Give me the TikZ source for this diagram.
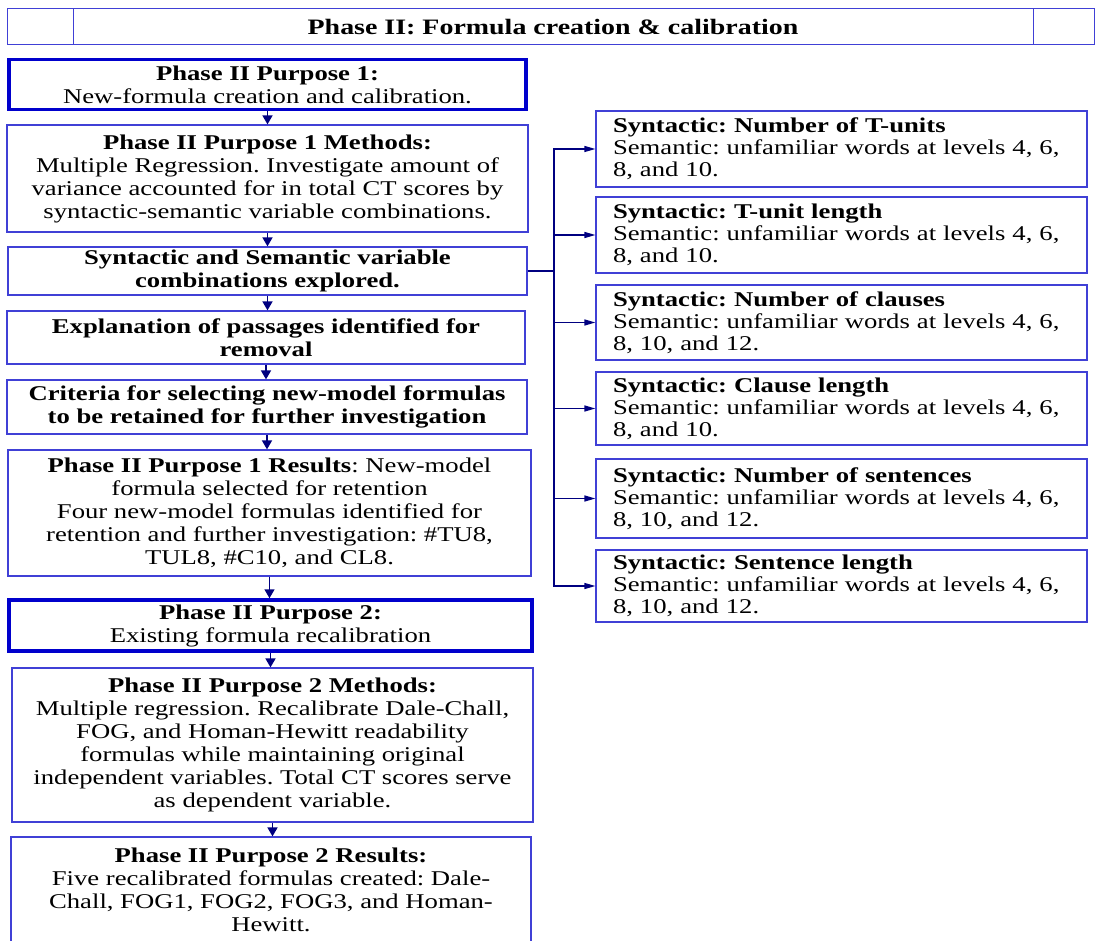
\documentclass[tikz,border=0pt]{standalone}
\usepackage{fontspec}
\setmainfont{Liberation Serif}[FakeStretch=1.27]
\usetikzlibrary{arrows.meta}
\definecolor{thinblue}{RGB}{64,64,214}
\definecolor{thickblue}{RGB}{0,0,204}
\definecolor{navy}{RGB}{0,0,128}
\tikzset{
  box/.style={draw=thinblue, line width=1.2pt, rectangle, inner sep=0pt, align=center,
    font=\fontsize{21}{23}\selectfont},
  thickbox/.style={box, draw=thickblue, line width=3.5pt},
  rbox/.style={draw=thinblue, line width=1.2pt, rectangle, inner xsep=17pt, inner ysep=0pt,
    text width=457pt, align=left, font=\fontsize{21}{22}\selectfont},
  cell/.style={draw=thinblue, line width=1pt, rectangle, inner sep=0pt,
    font=\fontsize{22}{23}\selectfont\bfseries},
  varrow/.style={draw=navy, line width=1.6pt, -{Triangle[length=9pt,width=10pt]}},
  harrow/.style={draw=navy, line width=1.3pt, -{Triangle[length=11pt,width=6pt]}},
  bus/.style={draw=navy, line width=1.6pt}
}
\begin{document}
\frenchspacing
\begin{tikzpicture}[x=1pt,y=-1pt]
\useasboundingbox (0,0) rectangle (1095,941);
% header
\node[cell, minimum width=66pt, minimum height=36pt] (hl) at (40,27) {};
\node[cell, minimum width=960pt, minimum height=36pt] (ht) at (553,27) {Phase II: Formula creation \& calibration};
\node[cell, minimum width=61pt, minimum height=36pt] (hr) at (1063.5,27) {};
% left column
\node[thickbox, minimum width=517pt, minimum height=50pt] (p1) at (267.5,84.5)
  {\textbf{Phase II Purpose 1:}\\New-formula creation and calibration.};
\node[box, minimum width=521pt, minimum height=107pt] (m1) at (267.5,178.5)
  {\textbf{Phase II Purpose 1 Methods:}\\Multiple Regression. Investigate amount of\\variance accounted for in total CT scores by\\syntactic-semantic variable combinations.};
\node[box, minimum width=519pt, minimum height=48pt] (sv) at (267.5,271)
  {\textbf{Syntactic and Semantic variable}\\\textbf{combinations explored.}};
\node[box, minimum width=518pt, minimum height=53pt] (ex) at (266,337.5)
  {\textbf{Explanation of passages identified for}\\\textbf{removal}};
\node[box, minimum width=520pt, minimum height=54pt] (cr) at (267,407)
  {\textbf{Criteria for selecting new-model formulas}\\\textbf{to be retained for further investigation}};
\node[box, minimum width=523pt, minimum height=126pt] (r1) at (269.5,513)
  {\textbf{Phase II Purpose 1 Results}: New-model\\formula selected for retention\\Four new-model formulas identified for\\retention and further investigation: \#TU8,\\TUL8, \#C10, and CL8.};
\node[thickbox, minimum width=523pt, minimum height=51pt] (p2) at (270.5,625.5)
  {\textbf{Phase II Purpose 2:}\\Existing formula recalibration};
\node[box, minimum width=521pt, minimum height=154pt] (m2) at (272.5,745)
  {\textbf{Phase II Purpose 2 Methods:}\\Multiple regression. Recalibrate Dale-Chall,\\FOG, and Homan-Hewitt readability\\formulas while maintaining original\\independent variables. Total CT scores serve\\as dependent variable.};
\node[box, minimum width=520pt, minimum height=106pt] (r2) at (271,890)
  {\textbf{Phase II Purpose 2 Results:}\\Five recalibrated formulas created: Dale-\\Chall, FOG1, FOG2, FOG3, and Homan-\\Hewitt.};
% right column
\node[rbox, minimum height=76pt] (s1) at (841.5,149)
  {\textbf{Syntactic: Number of T-units}\\Semantic: unfamiliar words at levels 4, 6,\\8, and 10.};
\node[rbox, minimum height=76pt] (s2) at (841.5,235)
  {\textbf{Syntactic: T-unit length}\\Semantic: unfamiliar words at levels 4, 6,\\8, and 10.};
\node[rbox, minimum height=75pt] (s3) at (841.5,322.5)
  {\textbf{Syntactic: Number of clauses}\\Semantic: unfamiliar words at levels 4, 6,\\8, 10, and 12.};
\node[rbox, minimum height=73pt] (s4) at (841.5,408.5)
  {\textbf{Syntactic: Clause length}\\Semantic: unfamiliar words at levels 4, 6,\\8, and 10.};
\node[rbox, minimum height=79pt] (s5) at (841.5,498.5)
  {\textbf{Syntactic: Number of sentences}\\Semantic: unfamiliar words at levels 4, 6,\\8, 10, and 12.};
\node[rbox, minimum height=72pt] (s6) at (841.5,586)
  {\textbf{Syntactic: Sentence length}\\Semantic: unfamiliar words at levels 4, 6,\\8, 10, and 12.};
% vertical arrows
\draw[varrow] (p1.south) -- (p1.south |- m1.north);
\draw[varrow] (m1.south) -- (m1.south |- sv.north);
\draw[varrow] (sv.south) -- (sv.south |- ex.north);
\draw[varrow] (ex.south) -- (ex.south |- cr.north);
\draw[varrow] (cr.south) -- (cr.south |- r1.north);
\draw[varrow] (r1.south) -- (r1.south |- p2.north);
\draw[varrow] (p2.south) -- (p2.south |- m2.north);
\draw[varrow] (m2.south) -- (m2.south |- r2.north);
% bus to right boxes
\coordinate (bus) at (554,271);
\draw[bus] (sv.east) -- (bus);
\foreach \s in {s1,s2,s3,s4,s5,s6}
  \draw[harrow] (bus) |- (\s.west);
\end{tikzpicture}
\end{document}
